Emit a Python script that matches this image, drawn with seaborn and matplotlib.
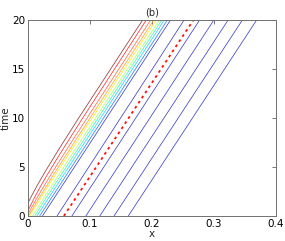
import numpy as np
import pandas as pd
import matplotlib
matplotlib.use("Agg")
import matplotlib.pyplot as plt
import seaborn as sns

# curved contour lines near the origin (x, time)
brown_x = [0.0, 0.0055, 0.014, 0.023, 0.0324, 0.0518, 0.0819, 0.185]
brown_t = [1.3, 2, 3, 4, 5, 7, 10, 20]
red_x = [0.0, 0.0037, 0.0116, 0.0202, 0.0293, 0.0484, 0.0884, 0.191]
red_t = [0.5, 1, 2, 3, 4, 6, 10, 20]
salmon_x = [0.0, 0.0029, 0.0072, 0.0161, 0.0254, 0.0448, 0.0749, 0.198]
salmon_t = [0.15, 0.5, 1, 2, 3, 5, 8, 20]
orange_x = [0.001, 0.0056, 0.0102, 0.0197, 0.0294, 0.0493, 0.0797, 0.203]
orange_t = [0, 0.5, 1, 2, 3, 5, 8, 20]
yellow_x = [0.003, 0.0078, 0.0126, 0.0224, 0.0323, 0.0525, 0.0831, 0.207]
yellow_t = [0, 0.5, 1, 2, 3, 5, 8, 20]
ygreen_x = [0.0075, 0.0125, 0.0174, 0.0274, 0.0375, 0.0578, 0.0885, 0.212]
ygreen_t = [0, 0.5, 1, 2, 3, 5, 8, 20]
green_x = [0.011, 0.031, 0.216]
green_t = [0, 2, 20]
cyan_x = [0.0145, 0.220]
cyan_t = [0, 20]
lblue_x = [0.019, 0.225]
lblue_t = [0, 20]

# straight blue lines: x at time 0 and at time 20
blue_x0 = [0.0235, 0.047, 0.071, 0.0935, 0.116, 0.139, 0.162]
blue_x20 = [0.230, 0.252, 0.277, 0.300, 0.323, 0.346, 0.369]

# dashed red line
dash_x = [0.058, 0.267]
dash_t = [0, 20]

curves = [
    (brown_x, brown_t, "#9a3a3a"),
    (red_x, red_t, "#ff3030"),
    (salmon_x, salmon_t, "#ff6a50"),
    (orange_x, orange_t, "#ffa830"),
    (yellow_x, yellow_t, "#f4ec30"),
    (ygreen_x, ygreen_t, "#b0ff70"),
    (green_x, green_t, "#50f0c0"),
    (cyan_x, cyan_t, "#30d0ff"),
    (lblue_x, lblue_t, "#3080ff"),
]

sns.set_style("white")
plt.rcParams["font.family"] = ["DejaVu Sans"]

fig = plt.figure(figsize=(2.85, 2.41), dpi=100)
ax = fig.add_axes([0.098, 0.104, 0.870, 0.813])

for xs, ts, col in curves:
    sns.lineplot(x=xs, y=ts, color=col, lw=0.55, sort=False, estimator=None, ax=ax)

for a, b in zip(blue_x0, blue_x20):
    sns.lineplot(x=[a, b], y=[0, 20], color="#4040c8", lw=0.55, sort=False, estimator=None, ax=ax)

sns.lineplot(x=dash_x, y=dash_t, color="#ff1010", lw=1.3, sort=False, estimator=None,
             ax=ax, linestyle=(0, (1.5, 1.9)))

ax.set_xlim(0, 0.4)
ax.set_ylim(0, 20)
ax.set_xticks([0, 0.1, 0.2, 0.3, 0.4])
ax.set_xticklabels(["0", "0.1", "0.2", "0.3", "0.4"])
ax.set_yticks([0, 5, 10, 15, 20])
ax.tick_params(direction="in", length=3, width=0.5, labelsize=7.5, pad=2,
               top=True, right=True, colors="#404040", labelcolor="black")
for s in ax.spines.values():
    s.set_color("#707070")
    s.set_linewidth(0.7)
ax.set_xlabel("x", fontsize=7.5, labelpad=0)
ax.set_ylabel("time", fontsize=7.5, labelpad=1)
ax.set_title("(b)", fontsize=7, pad=3)

fig.savefig("out.png", dpi=100)
